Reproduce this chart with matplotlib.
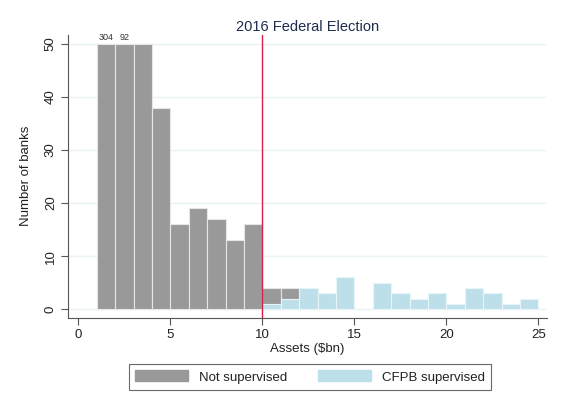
import matplotlib
matplotlib.use("Agg")
import matplotlib.pyplot as plt
import numpy as np
from matplotlib.patches import Patch

plt.rcParams['font.family'] = ['Liberation Sans', 'DejaVu Sans']

# Histogram bins: $1bn-wide bins starting at $1bn
bin_left = np.arange(1, 25)
not_supervised = [304, 92, 50, 38, 16, 19, 17, 13, 16, 4, 4,
                  0, 0, 0, 0, 0, 0, 0, 0, 0, 0, 0, 0, 0]
cfpb_supervised = [0, 0, 0, 0, 0, 0, 0, 0, 0, 1, 2,
                   4, 3, 6, 0, 5, 3, 2, 3, 1, 4, 3, 1, 2]
y_cap = 50
threshold = 10

grey = "#999999"
blue = "#bddfea"
grid_c = "#eaf3f3"
axis_c = "#555555"

fig = plt.figure(figsize=(5.63, 3.93), dpi=100)
ax = fig.add_axes([68/563, 1 - 317.5/393, (547-68)/563, (317.5-35)/393])

ns = np.array(not_supervised)
cf = np.array(cfpb_supervised)
ns_mask = bin_left < 12
ax.bar(bin_left[ns_mask], np.minimum(ns[ns_mask], y_cap), width=1, align='edge',
       color=grey, edgecolor="#e6e6e6", linewidth=0.8, zorder=2)
cf_mask = bin_left >= 10
ax.bar(bin_left[cf_mask], np.minimum(cf[cf_mask], y_cap), width=1, align='edge',
       color=blue, edgecolor="#e8f4f8", linewidth=0.8, zorder=3)

# values of bars cut off at the top of the axis
for x, v in zip(bin_left, ns):
    if v > y_cap:
        ax.text(x + 0.5, y_cap + 0.4, str(v), ha='center', va='bottom',
                fontsize=6.5, color="#333333")

ax.axvline(threshold, color="#d81e45", linewidth=1.0, zorder=4)

ax.set_xlim(-0.57, 25.47)
ax.set_ylim(-1.57, 51.7)
ax.set_xticks([0, 5, 10, 15, 20, 25])
ax.set_yticks([0, 10, 20, 30, 40, 50])
ax.set_yticklabels(["0", "10", "20", "30", "40", "50"], rotation=90, va='center')
ax.yaxis.grid(True, color=grid_c, linewidth=1.0, zorder=0)
ax.set_axisbelow(True)

for s in ["top", "right"]:
    ax.spines[s].set_visible(False)
for s in ["left", "bottom"]:
    ax.spines[s].set_color(axis_c)
    ax.spines[s].set_linewidth(0.8)
ax.tick_params(axis='both', direction='out', length=5, width=0.8, color=axis_c,
               labelsize=9.5, labelcolor="#222222", pad=3)

ax.set_xlabel("Assets (\\$bn)", fontsize=9.5, color="#222222", labelpad=2)
ax.set_ylabel("Number of banks", fontsize=9.5, color="#222222", labelpad=9)
ax.set_title("2016 Federal Election", fontsize=10.5, color="#1c2b4f", pad=3)

handles = [Patch(facecolor=grey, edgecolor=grey, label="Not supervised"),
           Patch(facecolor=blue, edgecolor=blue, label="CFPB supervised")]
leg = fig.legend(handles=handles, loc='center', bbox_to_anchor=(310/563, 1 - 377/393),
                 ncol=2, fontsize=9.5, frameon=True, fancybox=False,
                 handlelength=4.0, handleheight=0.9, handletextpad=0.8,
                 columnspacing=2.4, borderpad=0.5, borderaxespad=0)
leg.get_frame().set_edgecolor("#444444")
leg.get_frame().set_linewidth(0.8)
for t in leg.get_texts():
    t.set_color("#222222")

fig.savefig("out.png", dpi=100)
